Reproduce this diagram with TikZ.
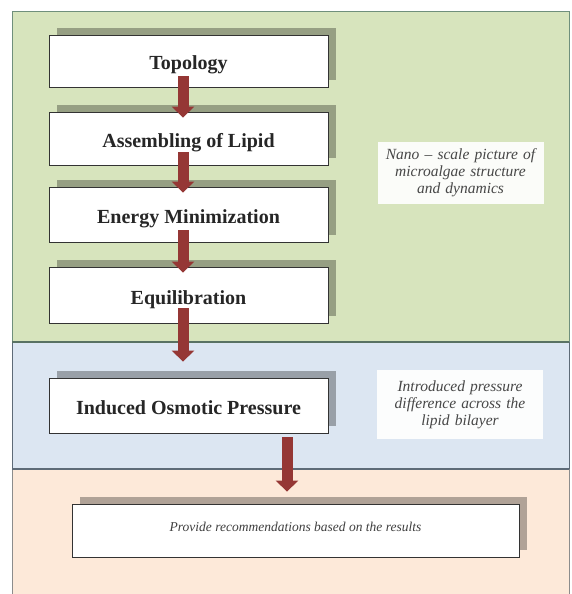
\documentclass[tikz,border=0pt]{standalone}
\usepackage{fontspec}
\setmainfont{Liberation Serif}
\usetikzlibrary{arrows.meta,shadows}
\definecolor{greenbg}{HTML}{D7E4BD}
\definecolor{greenline}{HTML}{6F8F7C}
\definecolor{bluebg}{HTML}{DCE6F2}
\definecolor{blueline}{HTML}{5E6B78}
\definecolor{orangebg}{HTML}{FDE9D9}
\definecolor{orangeline}{HTML}{8C8C8C}
\definecolor{arrowred}{HTML}{953735}
\begin{document}
\begin{tikzpicture}[x=1pt,y=-1pt,
  stepbox/.style={draw=black!80, line width=0.8pt, fill=white, minimum width=279pt,
    inner sep=0pt, text height=20pt, text depth=2pt,
    font=\fontsize{20}{24}\selectfont\bfseries, text=black!85,
    general shadow={fill=black, opacity=.30, shadow xshift=8pt, shadow yshift=7pt}},
  notebox/.style={fill=white, fill opacity=.92, text opacity=1, text width=162pt,
    align=center, inner sep=0pt, minimum width=166pt,
    font=\fontsize{15.5}{17}\selectfont\itshape, text=black!72},
  bigarrow/.style={draw=arrowred, line width=11pt, -{Triangle[width=22pt,length=11pt]}}]
\useasboundingbox (0,0) rectangle (571,594);
\begin{scope}
\clip (0,0) rectangle (571,594);
\fill[white] (0,0) rectangle (571,594);
\draw[greenline, line width=1pt, fill=greenbg] (12,12) rectangle (569,342);
\draw[blueline, line width=1pt, fill=bluebg] (12,342) rectangle (569,469);
\draw[orangeline, line width=1pt, fill=orangebg] (12,469) rectangle (569,600);
\draw[greenline!80!black, line width=1.2pt] (12,342) -- (569,342);
\draw[blueline, line width=1.2pt] (12,469) -- (569,469);
\end{scope}

\node[stepbox, minimum height=52pt] (topo) at (188.5,61) {Topology};
\node[stepbox, minimum height=53pt] (asm) at (188.5,138.5) {Assembling of Lipid};
\node[stepbox, minimum height=55pt] (en) at (188.5,214.5) {Energy Minimization};
\node[stepbox, minimum height=56pt] (eq) at (188.5,295) {Equilibration};
\node[stepbox, minimum height=55pt] (ind) at (188.5,405.5) {Induced Osmotic Pressure};
\node[stepbox, minimum width=447pt, minimum height=53pt, text height=8pt, text depth=6pt,
  font=\fontsize{13.5}{16}\selectfont\itshape, text=black!75] (prov) at (295.5,530.5)
  {Provide recommendations based on the results};

\node[notebox, minimum height=62pt] (n1) at (460.5,173)
  {Nano – scale picture of\\ microalgae structure\\ and dynamics};
\node[notebox, minimum height=69pt] (n2) at (460,404.5)
  {Introduced pressure\\ difference across the\\ lipid bilayer};

\draw[bigarrow] ([xshift=-5.5pt,yshift=11pt]topo.south) -- ([xshift=-5.5pt,yshift=-6pt]asm.north);
\draw[bigarrow] ([xshift=-5.5pt,yshift=13pt]asm.south) -- ([xshift=-5.5pt,yshift=-6pt]en.north);
\draw[bigarrow] ([xshift=-5.5pt,yshift=12pt]en.south) -- ([xshift=-5.5pt,yshift=-6pt]eq.north);
\draw[bigarrow] ([xshift=-5.5pt,yshift=15pt]eq.south) -- ([xshift=-5.5pt,yshift=16pt]ind.north);
\draw[bigarrow] ([xshift=98.5pt,yshift=-4pt]ind.south) -- ([xshift=-8.5pt,yshift=12pt]prov.north);
\end{tikzpicture}
\end{document}
